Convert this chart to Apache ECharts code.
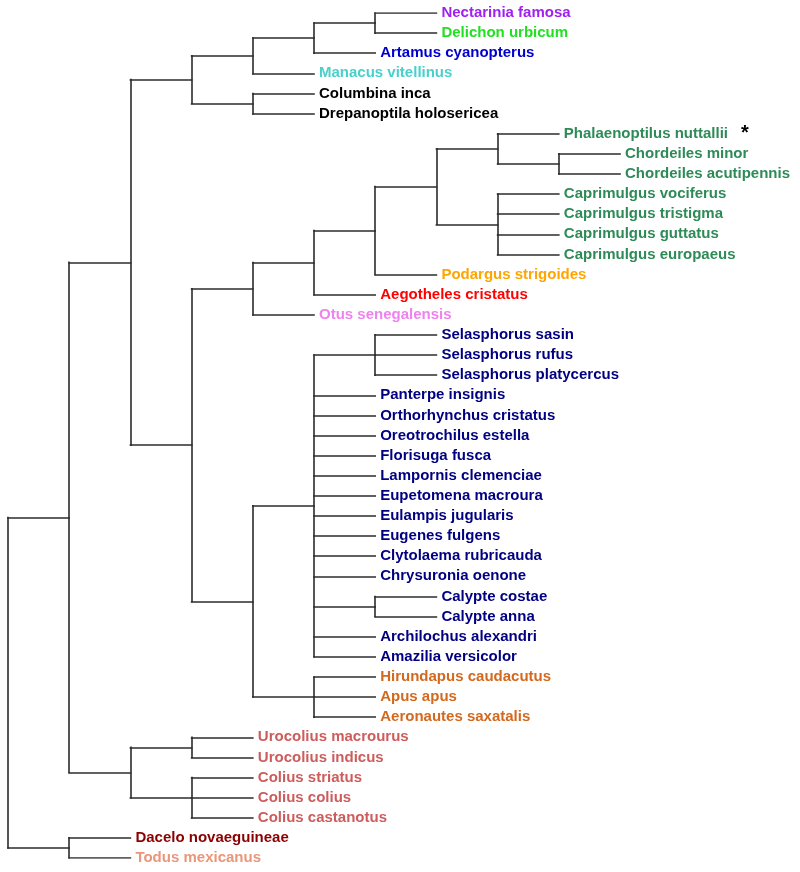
<!DOCTYPE html>
<html><head><meta charset="utf-8">
<script src="https://cdn.jsdelivr.net/npm/echarts@6/dist/echarts.min.js"></script>
<style>html,body{margin:0;padding:0;background:#fff}#c{width:800px;height:872px}</style>
</head><body><div id="c"></div>
<script>
// Topology (cladogram, unit branch lengths)
const newick = "(((((((Nectarinia famosa,Delichon urbicum),Artamus cyanopterus),Manacus vitellinus),(Columbina inca,Drepanoptila holosericea)),((((((Phalaenoptilus nuttallii,(Chordeiles minor,Chordeiles acutipennis)),(Caprimulgus vociferus,Caprimulgus tristigma,Caprimulgus guttatus,Caprimulgus europaeus)),Podargus strigoides),Aegotheles cristatus),Otus senegalensis),(((Selasphorus sasin,Selasphorus rufus,Selasphorus platycercus),Panterpe insignis,Orthorhynchus cristatus,Oreotrochilus estella,Florisuga fusca,Lampornis clemenciae,Eupetomena macroura,Eulampis jugularis,Eugenes fulgens,Clytolaema rubricauda,Chrysuronia oenone,(Calypte costae,Calypte anna),Archilochus alexandri,Amazilia versicolor),(Hirundapus caudacutus,Apus apus,Aeronautes saxatalis)))),((Urocolius macrourus,Urocolius indicus),(Colius striatus,Colius colius,Colius castanotus))),(Dacelo novaeguineae,Todus mexicanus))";

const groupNames = ["Nectarinia famosa","Delichon urbicum","Artamus cyanopterus","Manacus vitellinus","Columbina inca","Drepanoptila holosericea","Caprimulgidae","Podargus strigoides","Aegotheles cristatus","Otus senegalensis","Trochilidae","Apodidae","Coliidae","Dacelo novaeguineae","Todus mexicanus"];
const groupColors = ["#A020F0","#22E022","#0000CD","#48D1CC","#000000","#000000","#2E8B57","#FFA500","#FF0000","#EE82EE","#000080","#D2691E","#CD5C5C","#8B0000","#E9967A"];
const groupMembers = {
  "Caprimulgidae": ["Phalaenoptilus nuttallii","Chordeiles minor","Chordeiles acutipennis","Caprimulgus vociferus","Caprimulgus tristigma","Caprimulgus guttatus","Caprimulgus europaeus"],
  "Trochilidae": ["Selasphorus sasin","Selasphorus rufus","Selasphorus platycercus","Panterpe insignis","Orthorhynchus cristatus","Oreotrochilus estella","Florisuga fusca","Lampornis clemenciae","Eupetomena macroura","Eulampis jugularis","Eugenes fulgens","Clytolaema rubricauda","Chrysuronia oenone","Calypte costae","Calypte anna","Archilochus alexandri","Amazilia versicolor"],
  "Apodidae": ["Hirundapus caudacutus","Apus apus","Aeronautes saxatalis"],
  "Coliidae": ["Urocolius macrourus","Urocolius indicus","Colius striatus","Colius colius","Colius castanotus"]
};
const markedLeaves = ["Phalaenoptilus nuttallii"];

function colorOf(name){
  for (let g = 0; g < groupNames.length; g++) {
    if (groupNames[g] === name) return groupColors[g];
    const m = groupMembers[groupNames[g]];
    if (m && m.indexOf(name) >= 0) return groupColors[g];
  }
  return "#000";
}

function parse(s){
  let i = 0;
  function node(){
    if (s[i] === '(') {
      i++;
      const ch = [];
      while (true) {
        ch.push(node());
        if (s[i] === ',') { i++; continue; }
        if (s[i] === ')') { i++; break; }
      }
      return {children: ch};
    }
    const j = i;
    while (i < s.length && ',)'.indexOf(s[i]) < 0) i++;
    return {name: s.slice(j, i).trim()};
  }
  return node();
}

const root = parse(newick);
let leafCount = 0;
const segs = [], leafPts = [];
function layout(n, depth){
  n.depth = depth;
  if (!n.children) { n.y = leafCount++; leafPts.push(n); return; }
  n.children.forEach(c => layout(c, depth + 1));
  n.y = (n.children[0].y + n.children[n.children.length - 1].y) / 2;
  segs.push({coords: [[depth, n.children[0].y], [depth, n.children[n.children.length - 1].y]]});
  n.children.forEach(c => segs.push({coords: [[depth, c.y], [c.depth, c.y]]}));
}
layout(root, 0);

const chart = echarts.init(document.getElementById('c'), null, {renderer: 'canvas'});
const FONT = '"Liberation Sans", Arial, Helvetica, sans-serif';
chart.setOption({
  backgroundColor: '#fff',
  animation: false,
  grid: {left: 8, top: 13, width: 61.2 * 12, height: 845},
  xAxis: {type: 'value', min: 0, max: 12, show: false},
  yAxis: {type: 'value', min: 0, max: leafCount - 1, inverse: true, show: false},
  series: [
    {
      type: 'lines', coordinateSystem: 'cartesian2d', polyline: false,
      lineStyle: {color: '#2b2b2b', width: 1.6, cap: 'square', opacity: 1},
      data: segs, silent: true
    },
    {
      type: 'scatter', symbolSize: 0.01, itemStyle: {color: 'rgba(0,0,0,0)', opacity: 1},
      silent: true, clip: false,
      data: leafPts.map(n => ({
        name: n.name, value: [n.depth, n.y],
        label: {color: colorOf(n.name)}
      })),
      label: {
        show: true, position: 'right', distance: 5,
        fontFamily: FONT, fontWeight: 'bold', fontSize: 15,
        formatter: p => markedLeaves.indexOf(p.name) >= 0 ? p.name + '{s|*}' : p.name,
        rich: {s: {color: '#000', fontFamily: FONT, fontWeight: 'bold', fontSize: 20, padding: [0, 0, 0, 13]}}
      }
    }
  ]
});
</script></body></html>
